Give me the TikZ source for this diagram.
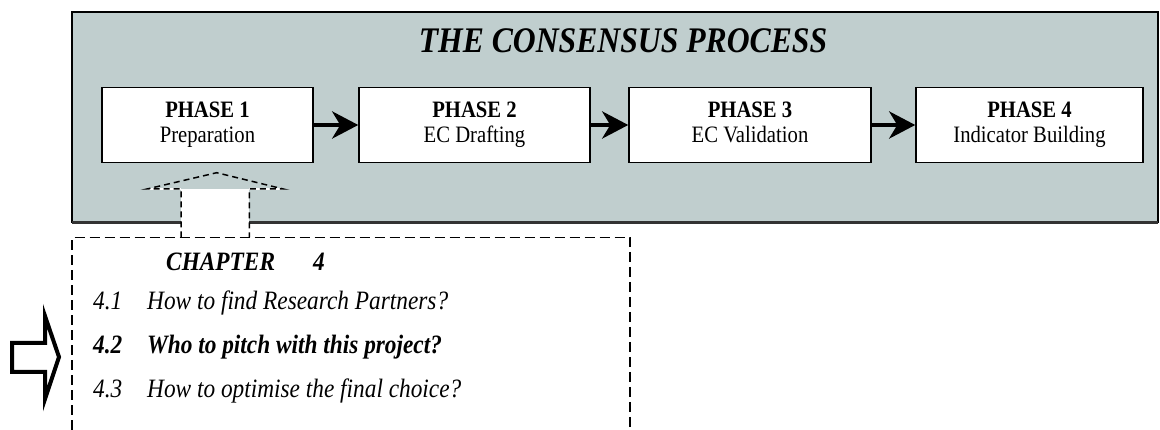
\documentclass[tikz,border=0pt]{standalone}
\usepackage{fontspec}
\setmainfont{Liberation Serif}[FakeStretch=0.88]
\usetikzlibrary{arrows.meta}
\definecolor{panelgray}{RGB}{192,206,206}

\begin{document}
\begin{tikzpicture}[x=1pt,y=-1pt,
  phase/.style={draw,line width=1.5pt,fill=white,minimum height=75pt,inner sep=0pt,
    align=center,font=\fontsize{23.5}{25}\selectfont},
  flow/.style={line width=4.5pt,-{Stealth[length=26pt,width=27pt,inset=8pt]}},
  chapline/.style={anchor=base west,inner sep=0pt,font=\fontsize{26.5}{30}\selectfont\itshape},
  chapbold/.style={chapline,font=\fontsize{26.5}{30}\selectfont\bfseries\itshape},
  dashbox/.style={line width=1.7pt,dash pattern=on 10pt off 5pt}]
  \useasboundingbox (0,0) rectangle (1160,430);

  % the process panel
  \draw[fill=panelgray,line width=1.5pt] (72,12) rectangle (1158,222);
  \draw[line width=2.5pt,black!80] (72,222.5) -- (1158,222.5);
  \node[anchor=base,font=\fontsize{36}{40}\selectfont\bfseries\itshape] (title) at (623,53)
    {THE CONSENSUS PROCESS};

  \node[phase,minimum width=211pt] (p1) at (207.5,125) {\textbf{PHASE 1}\\Preparation\vphantom{g}};
  \node[phase,minimum width=231pt] (p2) at (474.5,125) {\textbf{PHASE 2}\\EC Drafting\vphantom{g}};
  \node[phase,minimum width=242pt] (p3) at (750,125)   {\textbf{PHASE 3}\\EC Validation\vphantom{g}};
  \node[phase,minimum width=227pt] (p4) at (1029.5,125) {\textbf{PHASE 4}\\Indicator Building\vphantom{g}};

  \draw[flow] (p1) -- (p2);
  \draw[flow] (p2) -- (p3);
  \draw[flow] (p3) -- (p4);

  % dashed arrow from the chapter up to phase 1
  \coordinate (shl) at (181,237.5);
  \coordinate (shr) at (249.3,237.5);
  \coordinate (tip) at (216.7,172.7);
  \fill[white] (181,189) rectangle (shr);
  \draw[white,line width=1.5pt] (147,189) -- (181,189) (249.3,189) -- (283.3,189);
  \draw[line width=1.5pt,dash pattern=on 6pt off 4pt]
    (shl) -- (181,189) -- (147,189) -- (tip) -- (283.3,189) -- (249.3,189) -- (shr);

  % chapter box
  \draw[dashbox] (72,445) -- (72,237.5) -- (630,237.5) -- (630,445);

  \node[chapbold] (chap)    at (166,271) {CHAPTER};
  \node[chapbold] (chapnum) at (313,271) {4};
  \node[chapline] (n41) at (93,310) {4.1};
  \node[chapline] (q41) at (147,310) {How to find Research Partners?};
  \node[chapbold] (n42) at (93,354) {4.2};
  \node[chapbold] (q42) at (147,354) {Who to pitch with this project?};
  \node[chapline] (n43) at (93,398) {4.3};
  \node[chapline] (q43) at (147,398) {How to optimise the final choice?};

  % hollow pointer at 4.2
  \draw[line width=4pt,fill=white,miter limit=20]
    (12,343) -- (45,343) -- (45,316) -- (59,357) -- (45,399) -- (45,372) -- (12,372) -- cycle;
\end{tikzpicture}
\end{document}
